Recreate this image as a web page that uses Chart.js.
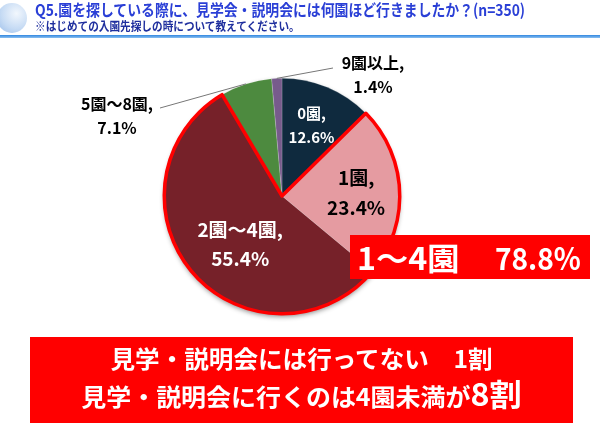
<!DOCTYPE html>
<html>
<head>
<meta charset="utf-8">
<script src="https://cdn.jsdelivr.net/npm/chart.js@4.4.1/dist/chart.umd.min.js"></script>
<style>
  body { margin: 0; background: #fff; font-family: "Noto Sans CJK JP", sans-serif; }
  #wrap { position: relative; width: 600px; height: 427px; overflow: hidden; }
  #myChart { position: absolute; left: 0; top: 0; }
  .abs { position: absolute; white-space: nowrap; transform-origin: 0 0; }
  #bulb { left: -3px; top: 3px; width: 30px; height: 30px; border-radius: 50%;
          background: radial-gradient(circle at 65% 35%, #f2f7fd 0%, #c6dbf4 55%, #97bbe9 100%); }
  #title { left: 35px; top: -1px; font-size: 16px; font-weight: 700; color: #2a3fd6; line-height: 20px; }
  #sub { left: 35px; top: 19px; font-size: 12px; font-weight: 700; color: #1f2f9e; line-height: 14px; }
  #rule { left: 0; top: 35px; width: 600px; height: 3px; background: linear-gradient(#2f86e0, #8cc0f0); }
  #box1 { left: 350px; top: 235px; width: 240px; height: 44px; background: #ff0000; }
  #box1 span { position: absolute; top: 0; line-height: 44px; color: #fff; font-weight: 700; font-size: 31px; transform-origin: 0 50%; }
  #box2 { left: 30px; top: 337px; width: 543px; height: 86px; background: #ff0000; color: #fff; font-weight: 700; }
  #box2 div { position: absolute; left: 0; width: 543px; text-align: center; white-space: nowrap; transform-origin: 50% 50%; }
</style>
</head>
<body>
<div id="wrap">
  <canvas id="myChart" width="600" height="427"></canvas>
  <div id="bulb" class="abs"></div>
  <div id="title" class="abs">Q5.園を探している際に、見学会・説明会には何園ほど行きましたか？(n=350)</div>
  <div id="sub" class="abs">※はじめての入園先探しの時について教えてください。</div>
  <div id="rule" class="abs"></div>
  <div id="box1" class="abs"><span id="b1a" style="left:7px">1～4園</span><span id="b1b" style="left:145px">78.8%</span></div>
  <div id="box2" class="abs">
    <div id="l1" style="top:4px; font-size:24px; line-height:34px"><span>見学・説明会には行ってない　1割</span></div>
    <div id="l2" style="top:36px; font-size:24px; line-height:40px"><span>見学・説明会に行くのは4園未満が<span style="font-size:31px">8割</span></span></div>
  </div>
</div>
<script>
// data
var categories = ['0園', '1園', '2園～4園', '5園～8園', '9園以上'];
var shares = [12.6, 23.4, 55.4, 7.1, 1.4];
var sliceColors = ['#0f2a3e', '#e59ba1', '#762129', '#4d8a3f', '#775b8c'];

// squeeze texts to the widths seen in the picture
function fitWidth(el, w, measure) {
    var s = w / (measure || el).offsetWidth;
    el.style.transform = 'scaleX(' + s + ')';
}
fitWidth(document.getElementById('title'), 490);
fitWidth(document.getElementById('sub'), 265);
fitWidth(document.getElementById('b1a'), 103);
fitWidth(document.getElementById('b1b'), 86);
['l1', 'l2'].forEach(function(id, k) {
    var el = document.getElementById(id);
    fitWidth(el, [382, 440][k], el.firstElementChild);
});

// label placement per slice: inside (fraction of radius) or outside with a leader line
var labelStyle = [
    { f: 0.65, dx: 0, dy: 0, color: '#fff', size: 15 },
    { f: 0.63, dx: 0, dy: 0, color: '#000', size: 19 },
    { f: 0.5, dx: 3, dy: 10, color: '#fff', size: 19 },
    { out: true, tx: 117, ty: 116, lx: 160, ly: 108, color: '#000', size: 16 },
    { out: true, tx: 373, ty: 75, lx: 333, ly: 68, color: '#000', size: 16 }
];

var piePlugin = {
    id: 'pieExtras',
    beforeDatasetsDraw: function(chart) {
        var arc = chart.getDatasetMeta(0).data[0];
        var ctx = chart.ctx;
        ctx.save();
        ctx.shadowColor = 'rgba(0,0,0,0.45)';
        ctx.shadowBlur = 5;
        ctx.shadowOffsetY = 3;
        ctx.fillStyle = '#fff';
        ctx.beginPath();
        ctx.arc(arc.x, arc.y, arc.outerRadius, 0, Math.PI * 2);
        ctx.fill();
        ctx.restore();
    },
    afterDatasetsDraw: function(chart) {
        var arcs = chart.getDatasetMeta(0).data;
        var ctx = chart.ctx;
        var cx = arcs[0].x, cy = arcs[0].y, r = arcs[0].outerRadius;

        // red outline around 1園 + 2園～4園
        var a0 = arcs[1].startAngle, a1 = arcs[2].endAngle;
        ctx.save();
        ctx.strokeStyle = '#ff0000';
        ctx.lineWidth = 3.5;
        ctx.lineJoin = 'round';
        ctx.beginPath();
        ctx.moveTo(cx, cy);
        ctx.lineTo(cx + r * Math.cos(a0), cy + r * Math.sin(a0));
        ctx.arc(cx, cy, r, a0, a1);
        ctx.closePath();
        ctx.stroke();
        ctx.restore();

        // labels
        ctx.save();
        ctx.textAlign = 'center';
        ctx.textBaseline = 'middle';
        for (var i = 0; i < arcs.length; i++) {
            var a = arcs[i], st = labelStyle[i];
            var mid = (a.startAngle + a.endAngle) / 2;
            var lines = [categories[i] + ',', shares[i].toFixed(1) + '%'];
            var x, y;
            ctx.font = 'bold ' + st.size + 'px "Noto Sans CJK JP"';
            ctx.fillStyle = st.color;
            if (st.out) {
                x = st.tx; y = st.ty;
                ctx.strokeStyle = '#777';
                ctx.lineWidth = 1;
                ctx.beginPath();
                ctx.moveTo(st.lx, st.ly);
                ctx.lineTo(cx + r * Math.cos(mid), cy + r * Math.sin(mid));
                ctx.stroke();
            } else {
                x = cx + st.f * r * Math.cos(mid) + st.dx;
                y = cy + st.f * r * Math.sin(mid) + st.dy;
            }
            var lh = st.size * 1.55;
            ctx.fillText(lines[0], x, y - lh / 2);
            ctx.fillText(lines[1], x, y + lh / 2);
        }
        ctx.restore();
    }
};

var ctx = document.getElementById('myChart');
var myChart = new Chart(ctx, {
    type: 'pie',
    data: {
        labels: categories,
        datasets: [{
            data: shares,
            backgroundColor: sliceColors,
            borderColor: 'rgba(255,255,255,0.35)',
            borderWidth: 0.5
        }]
    },
    options: {
        responsive: false,
        animation: false,
        layout: { padding: { left: 164, right: 200, top: 78, bottom: 113 } },
        plugins: {
            legend: { display: false },
            tooltip: { enabled: false }
        }
    },
    plugins: [piePlugin]
});
</script>
</body>
</html>
